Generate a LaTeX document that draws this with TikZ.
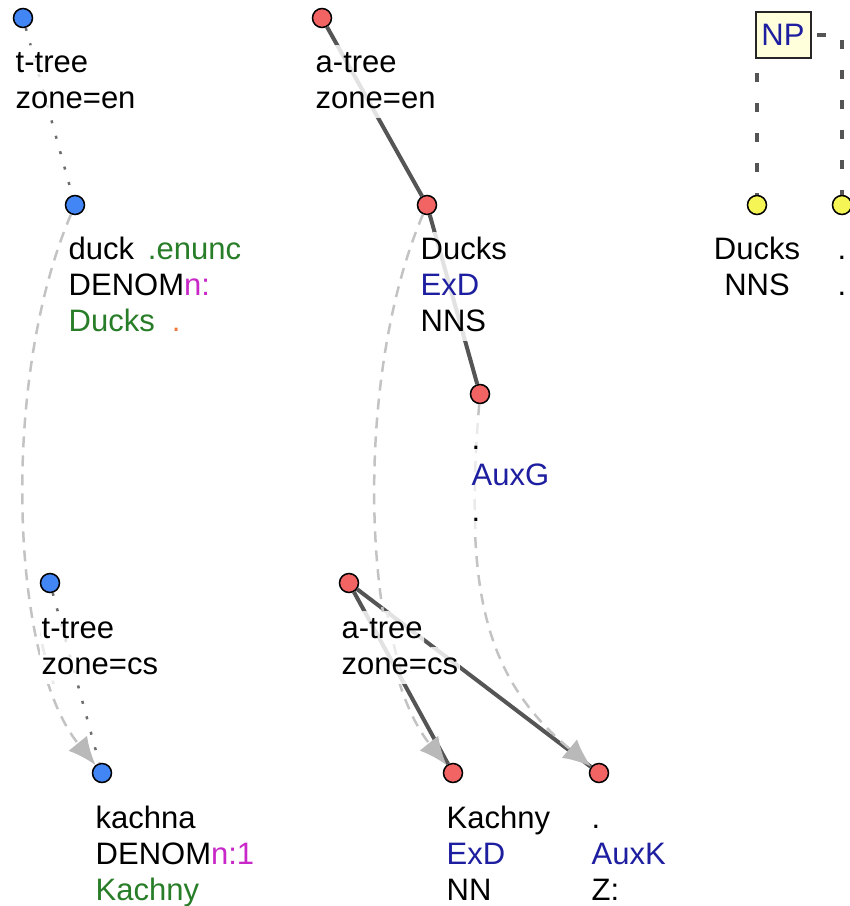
\documentclass[tikz,border=0pt]{standalone}
\usepackage{fontspec}
\setmainfont{Liberation Sans}
\usetikzlibrary{arrows.meta}
\definecolor{nblue}{RGB}{66,133,244}
\definecolor{nred}{RGB}{242,100,100}
\definecolor{nyel}{RGB}{245,245,85}
\definecolor{afun}{RGB}{30,30,160}
\definecolor{lgreen}{RGB}{40,125,40}
\definecolor{lmag}{RGB}{200,40,200}
\definecolor{lorange}{RGB}{240,120,60}
\definecolor{edgegray}{RGB}{85,85,85}
\definecolor{dotgray}{RGB}{110,110,110}
\definecolor{aligngray}{RGB}{195,195,195}
\definecolor{tipgray}{RGB}{185,185,185}
\definecolor{npfill}{RGB}{255,255,220}
\definecolor{fainttree}{RGB}{226,226,226}
\definecolor{faintalign}{RGB}{234,234,234}
\newcommand\faintedges{%
  \draw[dotedge,draw=fainttree] (tA) -- (tB);
  \draw[dotedge,draw=fainttree] (tC) -- (tD);
  \draw[treeedge,draw=fainttree] (aA) -- (aB);
  \draw[treeedge,draw=fainttree] (aB) -- (aC);
  \draw[treeedge,draw=fainttree] (aD) -- (aE);
  \draw[treeedge,draw=fainttree] (aD) -- (aF);
  \draw[alignline,draw=faintalign] (tB) .. controls (c1a) and (c1b) .. (tD);
  \draw[alignline,draw=faintalign] (aB) .. controls (c2a) and (c2b) .. (aE);
  \draw[alignline,draw=faintalign] (aC) .. controls (c3a) and (c3b) .. (aF);
}
\begin{document}
\begin{tikzpicture}[x=1pt,y=-1pt,
  dotnode/.style={circle,draw=black,line width=1.5pt,minimum size=19pt,inner sep=0pt},
  tnode/.style={dotnode,fill=nblue},
  anode/.style={dotnode,fill=nred},
  pnode/.style={dotnode,fill=nyel},
  lab/.style={anchor=base west,inner xsep=1.5pt,inner ysep=1.5pt,text height=25pt,text depth=8pt,fill=white,path picture={\faintedges},font=\fontsize{31}{36}\selectfont},
  labc/.style={lab,anchor=base},
  npbox/.style={draw=black!85,line width=2pt,fill=npfill,minimum width=55pt,minimum height=46pt,inner sep=0pt,text=afun,font=\fontsize{31}{36}\selectfont},
  treeedge/.style={draw=edgegray,line width=4pt},
  dotedge/.style={draw=dotgray,line width=2.5pt,dash pattern=on 3pt off 13pt},
  alignline/.style={draw=aligngray,line width=2.5pt,dash pattern=on 11pt off 8pt},
  alignedge/.style={alignline,-{Latex[length=28pt,width=24pt,color=tipgray]}},
  npedge/.style={draw=edgegray,line width=4pt,dash pattern=on 9pt off 21pt,dash phase=-4pt},
]
\useasboundingbox (0,0) rectangle (850,906);

% tree nodes
\node[tnode] (tA) at (23,18) {};
\node[tnode] (tB) at (75,205) {};
\node[tnode] (tC) at (50,583) {};
\node[tnode] (tD) at (102,773) {};
\node[anode] (aA) at (322,18) {};
\node[anode] (aB) at (427,205) {};
\node[anode] (aC) at (480,394) {};
\node[anode] (aD) at (349,583) {};
\node[anode] (aE) at (453,773) {};
\node[anode] (aF) at (599,773) {};
\node[pnode] (yA) at (757,205) {};
\node[pnode] (yB) at (842,205) {};
\coordinate (npc) at (783,35);
\coordinate (c1a) at (0,380);
\coordinate (c1b) at (10,660);
\coordinate (c2a) at (352,380);
\coordinate (c2b) at (362,660);
\coordinate (c3a) at (465,580);
\coordinate (c3b) at (480,675);

% edges
\draw[dotedge] (tA) -- (tB);
\draw[dotedge] (tC) -- (tD);
\draw[treeedge] (aA) -- (aB);
\draw[treeedge] (aB) -- (aC);
\draw[treeedge] (aD) -- (aE);
\draw[treeedge] (aD) -- (aF);
\draw[npedge] (npc) -| (yA);
\draw[npedge] (npc) -| (yB);
\draw[alignedge] (tB) .. controls (c1a) and (c1b) .. (tD);
\draw[alignedge] (aB) .. controls (c2a) and (c2b) .. (aE);
\draw[alignedge] (aC) .. controls (c3a) and (c3b) .. (aF);

\node[npbox] (np) at (npc) {NP};

% labels
\node[lab] (tA1) at (14,72) {t-tree};
\node[lab] (tA2) at (14,108) {zone=en};
\node[lab] (tB1) at (67,259) {duck \,\textcolor{lgreen}{.enunc}};
\node[lab] (tB2) at (67,295) {DENOM\textcolor{lmag}{n:}};
\node[lab] (tB3) at (67,331) {\textcolor{lgreen}{Ducks}\hspace*{17pt}\textcolor{lorange}{.}};
\node[lab] (tC1) at (40,638) {t-tree};
\node[lab] (tC2) at (40,674) {zone=cs};
\node[lab] (tD1) at (94,828) {kachna};
\node[lab] (tD2) at (94,864) {DENOM\textcolor{lmag}{n:1}};
\node[lab] (tD3) at (94,900) {\textcolor{lgreen}{Kachny}};

\node[lab] (aA1) at (314,72) {a-tree};
\node[lab] (aA2) at (314,108) {zone=en};
\node[lab] (aB1) at (419,259) {Ducks};
\node[lab] (aB2) at (419,295) {\textcolor{afun}{ExD}};
\node[lab] (aB3) at (419,331) {NNS};
\node[lab] (aC1) at (470,449) {.};
\node[lab] (aC2) at (470,485) {\textcolor{afun}{AuxG}};
\node[lab] (aC3) at (470,521) {.};
\node[lab] (aD1) at (340,638) {a-tree};
\node[lab] (aD2) at (340,674) {zone=cs};
\node[lab] (aE1) at (445,828) {Kachny};
\node[lab] (aE2) at (445,864) {\textcolor{afun}{ExD}};
\node[lab] (aE3) at (445,900) {NN};
\node[lab] (aF1) at (590,828) {.};
\node[lab] (aF2) at (590,864) {\textcolor{afun}{AuxK}};
\node[lab] (aF3) at (590,900) {Z:};

\node[labc] (yA1) at (757,259) {Ducks};
\node[labc] (yA2) at (757,295) {NNS};
\node[labc] (yB1) at (842,259) {.};
\node[labc] (yB2) at (842,295) {.};
\end{tikzpicture}
\end{document}
